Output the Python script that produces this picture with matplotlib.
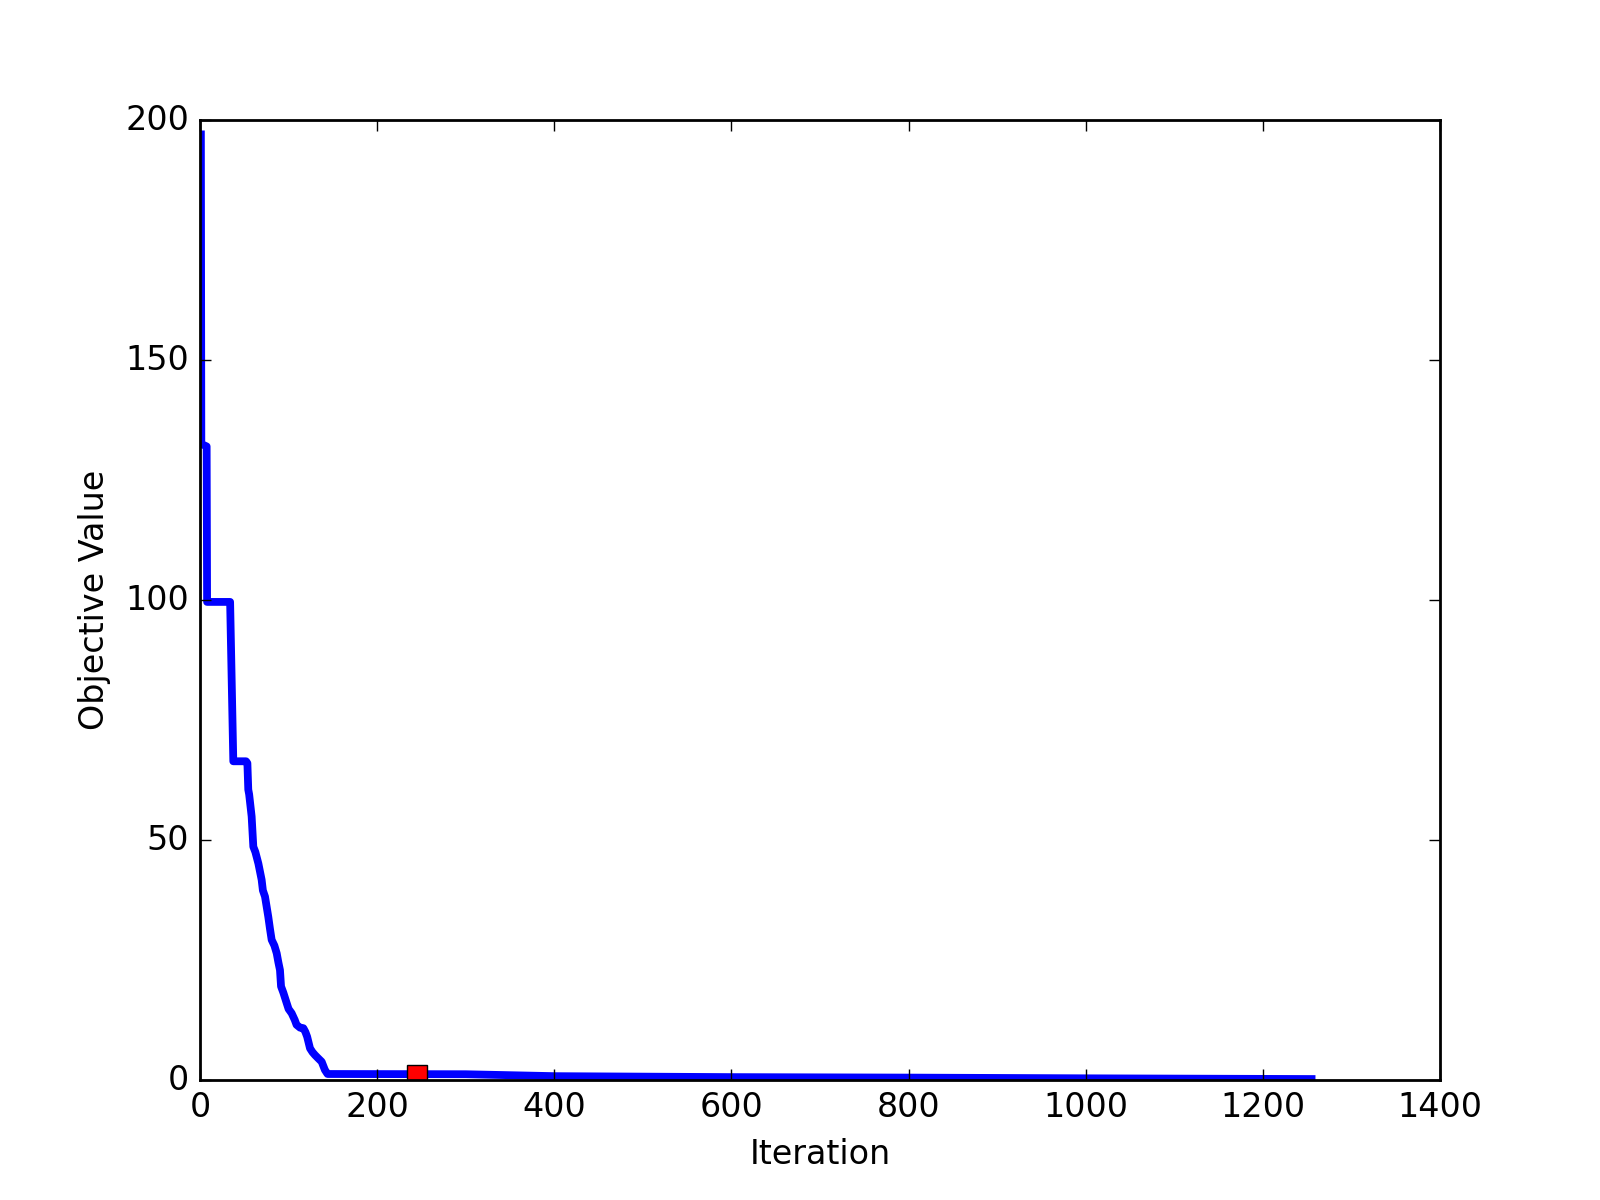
import matplotlib
matplotlib.use("Agg")
import matplotlib.pyplot as plt

plt.style.use("classic")

# Objective value trace
iterations = [1, 1.5, 7.5, 8, 34, 37.6, 52, 53.5, 54.5, 55.5, 58.3, 60.2, 62.5,
              65.9, 69.6, 71, 73.4, 77.1, 79, 80.9, 84, 86.6, 88.5, 90.3, 91.5,
              94.1, 97.9, 100, 103.5, 107, 109, 113, 116.7, 119, 121, 124.2,
              127, 129.8, 133, 137.4, 141, 144, 300, 400, 600, 800, 1000, 1255]
objective = [197, 132.5, 132, 99.6, 99.6, 66.4, 66.4, 66.0, 60.5, 59.5, 54.9,
             48.6, 47.5, 45.1, 41.7, 39.5, 38.2, 34.0, 31.5, 29.2, 28.0, 26.4,
             24.5, 22.9, 19.5, 18.2, 16.0, 14.8, 13.9, 12.5, 11.5, 10.9, 10.8,
             10.0, 9.0, 6.6, 5.8, 5.2, 4.6, 3.8, 2.1, 1.25, 1.2, 0.8, 0.6,
             0.5, 0.35, 0.2]

# Best point marker
best_iter = [244.5]
best_value = [1.1]

fig = plt.figure(figsize=(8, 6), dpi=200)
ax = fig.add_subplot(111)
ax.plot(iterations, objective, color="b", linewidth=2.8)
ax.plot(best_iter, best_value, marker="s", color="r", markersize=7.5,
        markeredgecolor="k", markeredgewidth=0.5, linestyle="none")
ax.set_xlim(0, 1400)
ax.set_ylim(0, 200)
ax.set_xlabel("Iteration")
ax.set_ylabel("Objective Value")
fig.savefig("out.png", dpi=200)
